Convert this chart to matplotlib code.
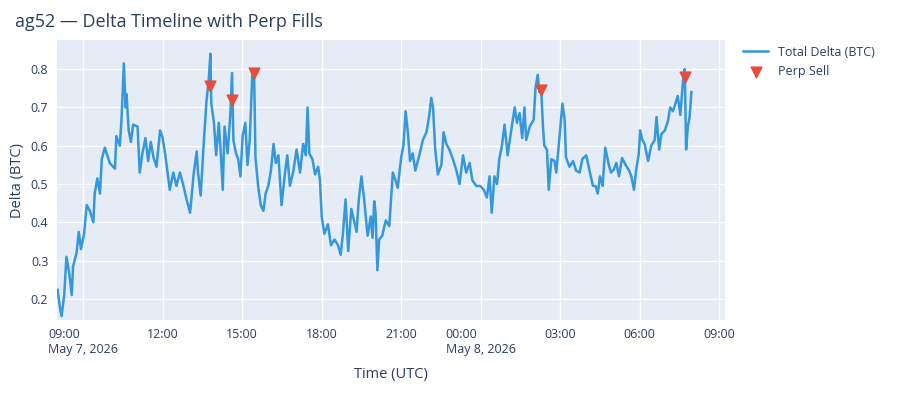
import numpy as np
import pandas as pd
import matplotlib
matplotlib.use("Agg")
import matplotlib.pyplot as plt
import matplotlib.dates as mdates

# total delta (time, BTC)
times = ["05-07 08:02", "05-07 08:07", "05-07 08:11", "05-07 08:17", "05-07 08:22", "05-07 08:28",
         "05-07 08:34", "05-07 08:37", "05-07 08:45", "05-07 08:50", "05-07 08:55", "05-07 09:02",
         "05-07 09:08", "05-07 09:15", "05-07 09:23", "05-07 09:26", "05-07 09:32", "05-07 09:38",
         "05-07 09:42", "05-07 09:49", "05-07 10:00", "05-07 10:12", "05-07 10:15", "05-07 10:23",
         "05-07 10:27", "05-07 10:32", "05-07 10:36", "05-07 10:38", "05-07 10:43", "05-07 10:48",
         "05-07 10:53", "05-07 11:03", "05-07 11:08", "05-07 11:14", "05-07 11:21", "05-07 11:27",
         "05-07 11:33", "05-07 11:39", "05-07 11:46", "05-07 11:54", "05-07 11:59", "05-07 12:06",
         "05-07 12:16", "05-07 12:24", "05-07 12:31", "05-07 12:39", "05-07 12:47", "05-07 12:54",
         "05-07 13:02", "05-07 13:10", "05-07 13:17", "05-07 13:20", "05-07 13:26", "05-07 13:32",
         "05-07 13:39", "05-07 13:44", "05-07 13:48", "05-07 13:50", "05-07 13:56", "05-07 14:01",
         "05-07 14:07", "05-07 14:11", "05-07 14:16", "05-07 14:20", "05-07 14:27", "05-07 14:33",
         "05-07 14:37", "05-07 14:40", "05-07 14:46", "05-07 14:51", "05-07 14:56", "05-07 15:01",
         "05-07 15:07", "05-07 15:12", "05-07 15:17", "05-07 15:23", "05-07 15:27", "05-07 15:30",
         "05-07 15:36", "05-07 15:42", "05-07 15:48", "05-07 15:53", "05-07 15:59", "05-07 16:05",
         "05-07 16:11", "05-07 16:16", "05-07 16:22", "05-07 16:29", "05-07 16:37", "05-07 16:42",
         "05-07 16:48", "05-07 16:56", "05-07 17:03", "05-07 17:11", "05-07 17:18", "05-07 17:24",
         "05-07 17:28", "05-07 17:32", "05-07 17:39", "05-07 17:45", "05-07 17:52", "05-07 17:56",
         "05-07 18:00", "05-07 18:06", "05-07 18:14", "05-07 18:21", "05-07 18:29", "05-07 18:37",
         "05-07 18:43", "05-07 18:48", "05-07 18:54", "05-07 19:00", "05-07 19:07", "05-07 19:13",
         "05-07 19:19", "05-07 19:24", "05-07 19:30", "05-07 19:36", "05-07 19:44", "05-07 19:51",
         "05-07 19:55", "05-07 19:59", "05-07 20:02", "05-07 20:06", "05-07 20:10", "05-07 20:17",
         "05-07 20:25", "05-07 20:33", "05-07 20:41", "05-07 20:47", "05-07 20:52", "05-07 21:00",
         "05-07 21:05", "05-07 21:10", "05-07 21:15", "05-07 21:20", "05-07 21:26", "05-07 21:32",
         "05-07 21:42", "05-07 21:49", "05-07 21:57", "05-07 22:03", "05-07 22:08", "05-07 22:12",
         "05-07 22:17", "05-07 22:23", "05-07 22:31", "05-07 22:36", "05-07 22:42", "05-07 22:49",
         "05-07 22:57", "05-07 23:05", "05-07 23:12", "05-07 23:20", "05-07 23:27", "05-07 23:35",
         "05-07 23:41", "05-07 23:50", "05-07 23:59", "05-08 00:07", "05-08 00:14", "05-08 00:20",
         "05-08 00:25", "05-08 00:31", "05-08 00:37", "05-08 00:42", "05-08 00:48", "05-08 00:54",
         "05-08 01:01", "05-08 01:09", "05-08 01:17", "05-08 01:22", "05-08 01:28", "05-08 01:34",
         "05-08 01:39", "05-08 01:43", "05-08 01:51", "05-08 02:00", "05-08 02:04", "05-08 02:09",
         "05-08 02:13", "05-08 02:17", "05-08 02:21", "05-08 02:24", "05-08 02:30", "05-08 02:34",
         "05-08 02:40", "05-08 02:47", "05-08 02:51", "05-08 02:57", "05-08 03:05", "05-08 03:10",
         "05-08 03:13", "05-08 03:21", "05-08 03:29", "05-08 03:36", "05-08 03:44", "05-08 03:50",
         "05-08 03:59", "05-08 04:06", "05-08 04:14", "05-08 04:20", "05-08 04:25", "05-08 04:30",
         "05-08 04:36", "05-08 04:42", "05-08 04:50", "05-08 04:55", "05-08 05:01", "05-08 05:07",
         "05-08 05:13", "05-08 05:20", "05-08 05:28", "05-08 05:36", "05-08 05:41", "05-08 05:47",
         "05-08 05:52", "05-08 05:58", "05-08 06:01", "05-08 06:06", "05-08 06:11", "05-08 06:19",
         "05-08 06:26", "05-08 06:34", "05-08 06:38", "05-08 06:44", "05-08 06:49", "05-08 06:57",
         "05-08 07:04", "05-08 07:09", "05-08 07:15", "05-08 07:21", "05-08 07:26", "05-08 07:32",
         "05-08 07:38", "05-08 07:42", "05-08 07:45", "05-08 07:49", "05-08 07:53", "05-08 07:57"]
delta = [0.224, 0.18, 0.155, 0.21, 0.31, 0.27,
         0.21, 0.285, 0.32, 0.375, 0.33, 0.37,
         0.445, 0.43, 0.40, 0.475, 0.515, 0.475,
         0.565, 0.595, 0.555, 0.54, 0.625, 0.60,
         0.675, 0.815, 0.70, 0.735, 0.64, 0.61,
         0.655, 0.65, 0.53, 0.58, 0.62, 0.56,
         0.61, 0.57, 0.545, 0.64, 0.625, 0.575,
         0.485, 0.53, 0.495, 0.53, 0.495, 0.46,
         0.425, 0.525, 0.585, 0.53, 0.47, 0.59,
         0.715, 0.77, 0.84, 0.71, 0.66, 0.575,
         0.66, 0.59, 0.485, 0.65, 0.58, 0.68,
         0.79, 0.615, 0.58, 0.565, 0.52, 0.625,
         0.66, 0.55, 0.615, 0.79, 0.79, 0.57,
         0.495, 0.445, 0.43, 0.475, 0.495, 0.535,
         0.605, 0.555, 0.575, 0.445, 0.53, 0.575,
         0.495, 0.535, 0.59, 0.53, 0.605, 0.575,
         0.70, 0.58, 0.565, 0.525, 0.545, 0.51,
         0.415, 0.37, 0.395, 0.34, 0.355, 0.34,
         0.315, 0.37, 0.46, 0.325, 0.435, 0.405,
         0.375, 0.46, 0.52, 0.46, 0.365, 0.415,
         0.36, 0.455, 0.425, 0.275, 0.355, 0.365,
         0.405, 0.39, 0.53, 0.51, 0.49, 0.57,
         0.60, 0.69, 0.635, 0.56, 0.58, 0.535,
         0.58, 0.615, 0.635, 0.675, 0.725, 0.70,
         0.59, 0.525, 0.55, 0.635, 0.605, 0.59,
         0.565, 0.535, 0.50, 0.575, 0.53, 0.555,
         0.51, 0.495, 0.495, 0.485, 0.465, 0.52,
         0.425, 0.52, 0.50, 0.565, 0.60, 0.655,
         0.575, 0.64, 0.70, 0.66, 0.685, 0.62,
         0.70, 0.615, 0.65, 0.668, 0.75, 0.785,
         0.74, 0.745, 0.65, 0.60, 0.59, 0.485,
         0.565, 0.56, 0.53, 0.605, 0.71, 0.668,
         0.57, 0.545, 0.56, 0.535, 0.53, 0.565,
         0.575, 0.537, 0.495, 0.495, 0.475, 0.52,
         0.495, 0.595, 0.55, 0.53, 0.537, 0.555,
         0.52, 0.568, 0.55, 0.535, 0.52, 0.485,
         0.537, 0.58, 0.64, 0.615, 0.605, 0.56,
         0.60, 0.615, 0.675, 0.59, 0.63, 0.64,
         0.665, 0.70, 0.69, 0.71, 0.73, 0.68,
         0.77, 0.80, 0.59, 0.65, 0.675, 0.74]

# perp sell fills
sell_times = ["05-07 13:46", "05-07 14:36", "05-07 15:27", "05-08 02:17", "05-08 07:42"]
sell_delta = [0.755, 0.72, 0.79, 0.745, 0.78]

tick_times = ["05-07 09:00", "05-07 12:00", "05-07 15:00", "05-07 18:00", "05-07 21:00",
              "05-08 00:00", "05-08 03:00", "05-08 06:00", "05-08 09:00"]
tick_labels = ["09:00\nMay 7, 2026", "12:00", "15:00", "18:00", "21:00",
               "00:00\nMay 8, 2026", "03:00", "06:00", "09:00"]
y_ticks = [0.2, 0.3, 0.4, 0.5, 0.6, 0.7, 0.8]


def to_dt(lst):
    return pd.to_datetime(["2026-" + s for s in lst])


plt.rcParams['font.family'] = ['Open Sans', 'DejaVu Sans']
txt = '#2a3f5f'

fig = plt.figure(figsize=(9, 4), dpi=100)
ax = fig.add_axes([0.063, 0.2, 0.743, 0.7])
ax.set_facecolor('#E5ECF6')
for s in ax.spines.values():
    s.set_visible(False)
ax.grid(color='white', linewidth=1)
ax.set_axisbelow(True)

ax.plot(to_dt(times), delta, color='#3498db', linewidth=1.8, label='Total Delta (BTC)')
ax.scatter(to_dt(sell_times), sell_delta, marker='v', s=60, color='#e74c3c',
           zorder=3, label='Perp Sell')

ax.set_xlim(pd.Timestamp("2026-05-07 08:00"), pd.Timestamp("2026-05-08 09:14"))
ax.set_ylim(0.145, 0.876)
ax.set_xticks(to_dt(tick_times))
ax.set_xticklabels(tick_labels, ha='center', multialignment='left')
for lab in ax.get_xticklabels():
    if '\n' in lab.get_text():
        lab.set_ha('center')
ax.set_yticks(y_ticks)
ax.set_yticklabels([f"{v:.1f}" for v in y_ticks])
ax.tick_params(length=0, labelsize=9, colors=txt, pad=6)

ax.set_xlabel('Time (UTC)', fontsize=10.5, color=txt, labelpad=8)
ax.set_ylabel('Delta (BTC)', fontsize=10.5, color=txt)
fig.text(0.017, 0.945, 'ag52 — Delta Timeline with Perp Fills', fontsize=13, color=txt, va='center')

leg = ax.legend(loc='upper left', bbox_to_anchor=(1.01, 1.02), frameon=False,
                fontsize=9, labelcolor=txt, handlelength=2)

fig.savefig('out.png', dpi=100)
